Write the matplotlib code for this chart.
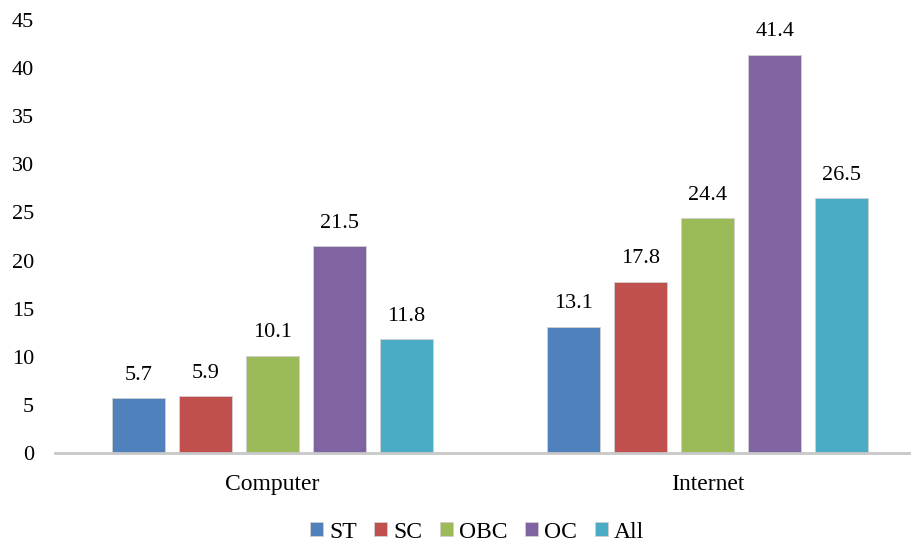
import matplotlib.pyplot as plt
import numpy as np

plt.rcParams['font.family'] = ['Liberation Serif', 'DejaVu Serif']

categories = ['Computer', 'Internet']
groups = ['ST', 'SC', 'OBC', 'OC', 'All']
values = {
    'ST': [5.7, 13.1],
    'SC': [5.9, 17.8],
    'OBC': [10.1, 24.4],
    'OC': [21.5, 41.4],
    'All': [11.8, 26.5],
}
colors = ['#4F81BD', '#C0504D', '#9BBB59', '#8064A2', '#4BACC6']

fig = plt.figure(figsize=(9.12, 5.43), dpi=100)
ax = fig.add_axes([0.060, 0.166, 0.955, 0.797])

x = np.arange(len(categories))
step = 0.1538
width = 0.1217
for i, g in enumerate(groups):
    pos = x + (i - 2) * step
    bars = ax.bar(pos, values[g], width, color=colors[i], label=g,
                  edgecolor='#D0D0D0', linewidth=0.6)
    for b, v in zip(bars, values[g]):
        ax.text(b.get_x() + b.get_width() / 2, v + 1.4, f'{v:.1f}',
                ha='center', va='bottom', fontsize=16)

ax.set_xlim(-0.5, 1.5)
ax.set_ylim(0, 45)
ax.set_yticks(range(0, 46, 5))
ax.set_xticks(x)
ax.set_xticklabels(categories, fontsize=17)
ax.tick_params(axis='both', length=0)
ax.tick_params(axis='y', pad=15, labelsize=16)
ax.tick_params(axis='x', pad=15)
for s in ['top', 'right', 'left']:
    ax.spines[s].set_visible(False)
ax.spines['bottom'].set_color('#C8C8C8')
ax.spines['bottom'].set_linewidth(2)

fig.legend(*ax.get_legend_handles_labels(), loc='center',
           bbox_to_anchor=(0.523, 0.02), ncol=5, frameon=False,
           fontsize=17, handlelength=0.55, handleheight=0.55, handletextpad=0.25,
           columnspacing=0.75)

fig.savefig('out.png')
